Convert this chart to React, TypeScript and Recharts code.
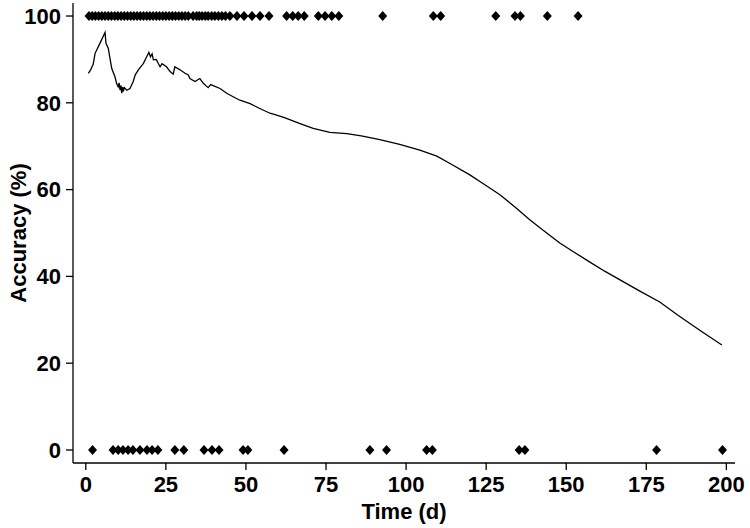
import React from 'react';
import { ComposedChart, Line, Scatter, XAxis, YAxis, Label } from 'recharts';

const lineX = [0.8, 1.5, 2.3, 2.9, 4.4, 6.0, 6.3, 7.0, 8.1, 9.1, 9.6, 10.1, 10.4, 10.7, 11.0, 11.2, 11.5, 11.7, 12.0, 12.8, 13.8, 14.8, 15.4, 16.4, 18.0, 19.0, 19.7, 20.2, 20.7, 21.1, 22.0, 22.6, 23.2, 23.8, 25.2, 26.3, 27.3, 27.8, 29.4, 31.0, 32.0, 32.5, 34.1, 35.6, 36.7, 38.2, 39.0, 41.9, 44.0, 46.0, 48.1, 51.3, 54.0, 57.5, 59.1, 62.0, 66.9, 71.0, 76.2, 81.5, 86.0, 91.8, 98.0, 104.3, 109.6, 114.0, 119.9, 124.0, 129.3, 134.0, 138.7, 143.0, 148.0, 152.0, 157.4, 162.0, 166.8, 173.0, 179.2, 185.0, 191.7, 198.6];
const lineY = [86.8, 87.6, 88.9, 91.4, 93.7, 96.2, 93.7, 92.6, 87.9, 86.0, 84.5, 83.7, 84.6, 82.9, 84.0, 82.2, 83.6, 82.6, 83.5, 82.9, 83.3, 84.9, 86.4, 87.6, 89.1, 90.6, 91.6, 90.6, 91.3, 89.9, 90.0, 89.1, 88.3, 89.0, 88.3, 87.2, 86.6, 88.3, 87.6, 86.8, 86.4, 85.6, 84.9, 85.6, 84.5, 83.5, 84.2, 83.3, 82.2, 81.4, 80.6, 79.8, 78.8, 77.6, 77.3, 76.6, 75.2, 74.1, 73.2, 72.9, 72.4, 71.5, 70.4, 69.1, 67.7, 65.9, 63.4, 61.4, 58.8, 56.0, 53.0, 50.5, 47.7, 45.8, 43.3, 41.2, 39.2, 36.6, 34.1, 31.0, 27.6, 24.2];

const correctX = [1, 2, 3, 4, 5, 6, 7, 8, 9, 10, 11, 12, 13, 14, 15, 16, 17, 18, 19, 20, 21, 22, 23, 24, 25, 26, 27, 28, 29, 30, 31, 32, 33.5, 34.6, 35.4, 36.3, 37.3, 38.2, 39.3, 40.3, 41.4, 42.5, 43.6, 45, 47.2, 49.4, 51.9, 54.4, 57.2, 62.7, 64.6, 66.3, 68.2, 72.6, 74.7, 76.8, 79.0, 92.7, 108.5, 110.8, 128.0, 134.0, 135.7, 144.1, 153.7];
const wrongX = [2.1, 8.5, 10.1, 11.6, 13.2, 14.7, 16.9, 19.1, 20.7, 22.5, 27.8, 30.6, 36.9, 39.4, 41.6, 49.1, 50.6, 61.9, 88.7, 93.9, 106.4, 108.2, 135.3, 137.1, 178.2, 198.8];

const xTicks = [0, 25, 50, 75, 100, 125, 150, 175, 200];
const yTicks = [0, 20, 40, 60, 80, 100];

const lineData = lineX.map((x, i) => ({ x, y: lineY[i] }));
const topData = correctX.map((x) => ({ x, y: 100 }));
const bottomData = wrongX.map((x) => ({ x, y: 0 }));

const font = 'Liberation Sans, Arial, Helvetica, sans-serif';
const tickStyle = { fill: '#000', fontSize: 22, fontWeight: 'bold', fontFamily: font } as any;

const Diamond = (props: any) => {
  const { cx, cy } = props;
  if (cx == null || cy == null) return null;
  const w = 4.5, h = 5;
  return <polygon points={`${cx},${cy - h} ${cx + w},${cy} ${cx},${cy + h} ${cx - w},${cy}`} fill="#000" />;
};

export default function App() {
  return (
    <div style={{ position: 'absolute', left: 0, top: 0, width: 750, height: 528, background: '#fff' }}>
      <ComposedChart width={750} height={528} margin={{ top: 3, right: 15, bottom: 0, left: 0 }}>
        <XAxis
          dataKey="x"
          type="number"
          domain={[-4, 202.7]}
          ticks={xTicks}
          allowDataOverflow
          height={65}
          tickSize={7}
          tickMargin={6}
          tick={tickStyle}
          stroke="#000"
          strokeWidth={1.3}
          tickLine={{ stroke: '#000', strokeWidth: 1.3 }}
          interval={0}
        >
          <Label value="Time (d)" position="insideBottom" offset={9} style={{ fill: '#000', fontSize: 22, fontWeight: 'bold', fontFamily: font }} />
        </XAxis>
        <YAxis
          dataKey="y"
          type="number"
          domain={[-3, 103]}
          ticks={yTicks}
          allowDataOverflow
          width={73}
          tickSize={7}
          tickMargin={5}
          tick={tickStyle}
          stroke="#000"
          strokeWidth={1.3}
          tickLine={{ stroke: '#000', strokeWidth: 1.3 }}
          interval={0}
        >
          <Label value="Accuracy (%)" angle={-90} position="center" dx={-18} style={{ fill: '#000', fontSize: 22, fontWeight: 'bold', fontFamily: font, textAnchor: 'middle' }} />
        </YAxis>
        <Scatter data={topData} dataKey="y" shape={<Diamond />} isAnimationActive={false} />
        <Scatter data={bottomData} dataKey="y" shape={<Diamond />} isAnimationActive={false} />
        <Line data={lineData} dataKey="y" type="linear" stroke="#000" strokeWidth={1.3} dot={false} isAnimationActive={false} />
      </ComposedChart>
    </div>
  );
}
